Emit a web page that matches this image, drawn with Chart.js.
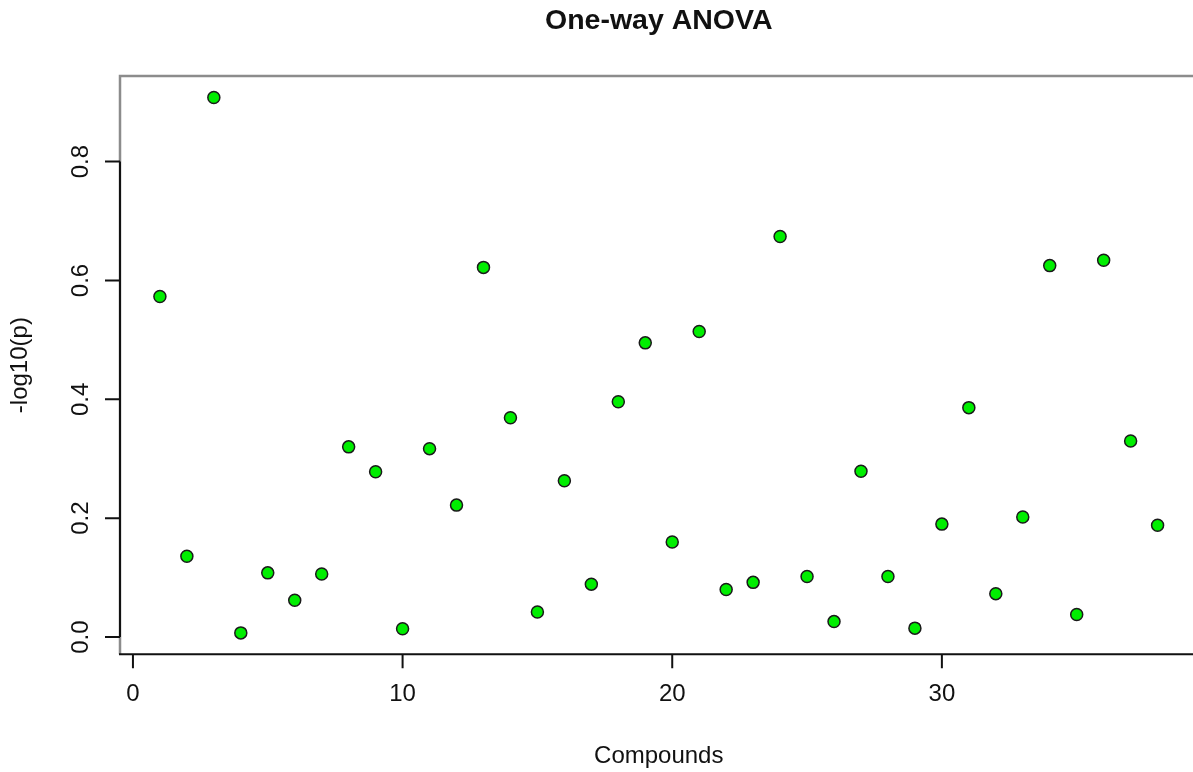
<!DOCTYPE html>
<html lang="en">
<head>
    <meta charset="UTF-8">
    <title>One-way ANOVA</title>
    <script src="https://cdn.jsdelivr.net/npm/chart.js"></script>
    <style>
        body {
            margin: 0;
            background: #ffffff;
            overflow: hidden;
        }
        /* plot frame runs slightly past the right edge of the window */
        .chart-wrap {
            width: 1200px;
            height: 772px;
        }
    </style>
</head>
<body>
    <div class="chart-wrap">
        <canvas id="anovaChart"></canvas>
    </div>

    <script>
        const compounds = [1, 2, 3, 4, 5, 6, 7, 8, 9, 10, 11, 12, 13, 14, 15, 16, 17, 18, 19,
                           20, 21, 22, 23, 24, 25, 26, 27, 28, 29, 30, 31, 32, 33, 34, 35, 36, 37, 38];
        const negLog10P = [0.573, 0.136, 0.908, 0.007, 0.108, 0.062, 0.106, 0.320, 0.278, 0.014,
                           0.317, 0.222, 0.622, 0.369, 0.042, 0.263, 0.089, 0.396, 0.495, 0.160,
                           0.514, 0.080, 0.092, 0.674, 0.102, 0.026, 0.279, 0.102, 0.015, 0.190,
                           0.386, 0.073, 0.202, 0.625, 0.038, 0.634, 0.330, 0.188];
        const xTicks = [0, 10, 20, 30];
        const yTicks = [0, 0.2, 0.4, 0.6, 0.8];
        const yTickLabels = ["0.0", "0.2", "0.4", "0.6", "0.8"];

        const FONT = '"Liberation Sans", Arial, sans-serif';

        // R-style axis limits: data range padded by 4% on each side
        function padRange(vals) {
            const lo = Math.min(...vals), hi = Math.max(...vals);
            const ext = (hi - lo) * 0.04;
            return [lo - ext, hi + ext];
        }
        const [xMin, xMax] = padRange(compounds);
        const [yMin, yMax] = padRange(negLog10P);

        // draws the frame, axes, tick labels and titles in base-graphics style
        const baseAxes = {
            id: "baseAxes",
            beforeDatasetsDraw(chart) {
                const { ctx, chartArea: a, scales: { x, y } } = chart;
                ctx.save();

                // grey frame (top, left, right)
                ctx.strokeStyle = "#8c8c8c";
                ctx.lineWidth = 2.5;
                ctx.beginPath();
                ctx.moveTo(a.left, a.bottom);
                ctx.lineTo(a.left, a.top);
                ctx.lineTo(a.right, a.top);
                ctx.lineTo(a.right, a.bottom);
                ctx.stroke();

                ctx.strokeStyle = "#111";
                ctx.lineWidth = 2;

                // bottom axis line and ticks
                ctx.beginPath();
                ctx.moveTo(a.left - 1, a.bottom);
                ctx.lineTo(a.right, a.bottom);
                xTicks.forEach(v => {
                    const px = x.getPixelForValue(v);
                    ctx.moveTo(px, a.bottom);
                    ctx.lineTo(px, a.bottom + 14);
                });
                ctx.stroke();

                // left axis line and ticks
                ctx.beginPath();
                ctx.moveTo(a.left, y.getPixelForValue(yTicks[0]));
                ctx.lineTo(a.left, y.getPixelForValue(yTicks[yTicks.length - 1]));
                yTicks.forEach(v => {
                    const py = y.getPixelForValue(v);
                    ctx.moveTo(a.left, py);
                    ctx.lineTo(a.left - 15, py);
                });
                ctx.stroke();

                ctx.fillStyle = "#111";
                ctx.font = "24px " + FONT;
                ctx.textBaseline = "alphabetic";
                ctx.textAlign = "center";

                xTicks.forEach(v => {
                    ctx.fillText(String(v), x.getPixelForValue(v), 701);
                });

                yTicks.forEach((v, i) => {
                    ctx.save();
                    ctx.translate(88, y.getPixelForValue(v));
                    ctx.rotate(-Math.PI / 2);
                    ctx.fillText(yTickLabels[i], 0, 0);
                    ctx.restore();
                });

                const midX = (a.left + a.right) / 2;
                const midY = (a.top + a.bottom) / 2;

                ctx.fillText("Compounds", midX, 763);

                ctx.save();
                ctx.translate(27, midY);
                ctx.rotate(-Math.PI / 2);
                ctx.fillText("-log10(p)", 0, 0);
                ctx.restore();

                ctx.font = "bold 28.5px " + FONT;
                ctx.fillText("One-way ANOVA", midX, 28.5);

                ctx.restore();
            }
        };

        const ctx = document.getElementById("anovaChart").getContext("2d");
        new Chart(ctx, {
            type: "scatter",
            data: {
                datasets: [{
                    label: "-log10(p)",
                    data: compounds.map((c, i) => ({ x: c, y: negLog10P[i] })),
                    pointRadius: 6,
                    pointHoverRadius: 6,
                    pointBackgroundColor: "#00ee00",
                    pointBorderColor: "#1a1a1a",
                    pointBorderWidth: 1.5
                }]
            },
            options: {
                responsive: true,
                maintainAspectRatio: false,
                animation: false,
                layout: {
                    autoPadding: false,
                    padding: { left: 120, top: 76, right: 2.5, bottom: 117.7 }
                },
                plugins: {
                    legend: { display: false },
                    tooltip: { enabled: false }
                },
                scales: {
                    x: { type: "linear", min: xMin, max: xMax, display: false },
                    y: { type: "linear", min: yMin, max: yMax, display: false }
                }
            },
            plugins: [baseAxes]
        });
    </script>
</body>
</html>
